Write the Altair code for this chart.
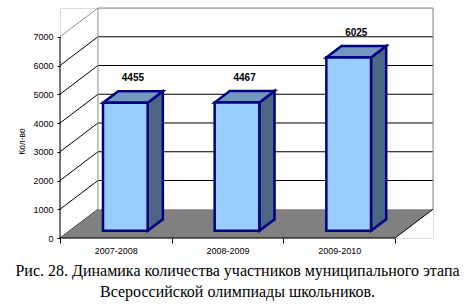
import altair as alt
import pandas as pd

# ---------------- data ----------------
categories = ["2007-2008", "2008-2009", "2009-2010"]
values = [4455, 4467, 6025]
y_ticks = [0, 1000, 2000, 3000, 4000, 5000, 6000, 7000]
y_title = "Кол-во"
caption = [
    "Рис. 28. Динамика количества участников муниципального этапа",
    "Всероссийской олимпиады школьников.",
]

# ---------------- 3D geometry (data units) ----------------
N = len(categories)
YMAX = y_ticks[-1]
DX = 0.34      # depth shift along the category axis
DY = 1000      # depth shift along the value axis
BAR_LO, BAR_HI = 0.30, 0.70   # bar width inside a category band
D0, D1 = 0.25, 0.65           # bar depth (fraction of the full depth)

FRONT = "#99CCFF"
TOP = "#7298BF"
SIDE = "#4C6784"
EDGE = "#000080"
FLOOR = "#808080"
GRAYLINE = "#8C8C8C"
SANS = "Liberation Sans, Arial, sans-serif"
SERIF = "Liberation Serif, Times New Roman, serif"

xs = alt.Scale(domain=[0, N + DX], nice=False, zero=False)
ys = alt.Scale(domain=[0, YMAX + DY], nice=False, zero=False)

label_expr = (
    "datum.value % 1 === 0.5 ? "
    + "[" + ",".join("'" + c + "'" for c in categories) + "][floor(datum.value)] : ''"
)
x_vals = [k / 2 for k in range(2 * N + 1)]

X_AX = alt.Axis(
    values=x_vals, labelExpr=label_expr, domain=False, grid=False,
    tickSize=5, tickColor="#000000",
    tickOpacity={"condition": {"test": "datum.value % 1 === 0", "value": 1}, "value": 0},
    labelPadding=3, labelFont=SANS, labelFontSize=9,
    labelColor="#000000", labelAngle=0, title=None,
)
Y_AX = alt.Axis(
    values=y_ticks, format="d", domain=False, grid=False, tickSize=3, tickColor="#000000",
    labelPadding=4, labelFont=SANS, labelFontSize=9, labelColor="#000000",
    title=y_title, titleFont=SANS, titleFontSize=8.5, titleFontWeight="normal",
    titleColor="#000000", titleX=-34, titleY=133, titleAngle=270,
)


def X(field, **kw):
    return alt.X(field, scale=xs, axis=X_AX, **kw)


def Y(field, **kw):
    return alt.Y(field, scale=ys, axis=Y_AX, **kw)


# ---------- wall / grid segments ----------
segs = []
for v in y_ticks[1:]:
    segs.append(dict(x=DX, y=v + DY, x2=N + DX, y2=v + DY,
                     c="g" if v == YMAX else "k"))
for v in y_ticks:
    segs.append(dict(x=0, y=v, x2=DX, y2=v + DY, c="g" if v == YMAX else "k"))
segs.append(dict(x=DX, y=DY, x2=DX, y2=YMAX + DY, c="g"))
segs.append(dict(x=N + DX, y=DY, x2=N + DX, y2=YMAX + DY, c="g"))
segs_df = pd.DataFrame(segs)

edges_df = pd.DataFrame([
    dict(x=0, y=0, x2=N, y2=0),           # front floor edge
    dict(x=N, y=0, x2=N + DX, y2=DY),      # right floor edge
    dict(x=0, y=0, x2=0, y2=YMAX),         # front value axis line
])

floor_df = pd.DataFrame([
    dict(y=0, x=0, x2=N),
    dict(y=DY, x=DX, x2=N + DX),
])

# ---------- bars ----------
ddx = DX * (D1 - D0)
ddy = DY * (D1 - D0)
front_rows, lab_rows = [], []
top_dfs, side_dfs = [], []
for i, (c, v) in enumerate(zip(categories, values)):
    x0 = i + BAR_LO + DX * D0
    x1 = i + BAR_HI + DX * D0
    yb = DY * D0
    yt = v + DY * D0
    front_rows.append(dict(cat=c, x=x0, x2=x1, y=yb, y2=yt))
    top_dfs.append(pd.DataFrame([
        dict(y=yt, x=x0, x2=x1),
        dict(y=yt + ddy, x=x0 + ddx, x2=x1 + ddx),
    ]))
    side_dfs.append(pd.DataFrame([
        dict(x=x1, y=yb, y2=yt),
        dict(x=x1 + ddx, y=yb + ddy, y2=yt + ddy),
    ]))
    lab_rows.append(dict(cat=c, x=i + 0.5 + DX * (D0 + D1) / 2, y=yt + ddy, v=v))

front_df = pd.DataFrame(front_rows)
lab_df = pd.DataFrame(lab_rows)

# ---------- layers ----------
grid = alt.Chart(segs_df).mark_rule(strokeWidth=1).encode(
    x=X("x:Q"), y=Y("y:Q"), x2="x2:Q", y2="y2:Q",
    color=alt.Color("c:N", scale=alt.Scale(domain=["k", "g"], range=["#000000", GRAYLINE]), legend=None),
)

floor = alt.Chart(floor_df).mark_area(orient="horizontal", fill=FLOOR, opacity=1).encode(
    y=Y("y:Q"), x=X("x:Q", stack=None), x2="x2:Q",
)

edges = alt.Chart(edges_df).mark_rule(color="#000000", strokeWidth=1).encode(
    x=X("x:Q"), y=Y("y:Q"), x2="x2:Q", y2="y2:Q",
)

sides = [
    alt.Chart(d).mark_area(
        orient="vertical", fill=SIDE, opacity=1, stroke=EDGE, strokeWidth=2.5, strokeJoin="miter"
    ).encode(x=X("x:Q"), y=Y("y:Q", stack=None), y2="y2:Q")
    for d in side_dfs
]
tops = [
    alt.Chart(d).mark_area(
        orient="horizontal", fill=TOP, opacity=1, stroke=EDGE, strokeWidth=2.5, strokeJoin="miter"
    ).encode(y=Y("y:Q"), x=X("x:Q", stack=None), x2="x2:Q")
    for d in top_dfs
]

front = alt.Chart(front_df).mark_rect(
    fill=FRONT, stroke=EDGE, strokeWidth=2.5, strokeJoin="miter"
).encode(x=X("x:Q"), x2="x2:Q", y=Y("y:Q"), y2="y2:Q")

labels = alt.Chart(lab_df).mark_text(
    font=SANS, fontSize=10, fontWeight="bold", color="#000000",
    baseline="middle", align="center", dy=-13,
).encode(x=X("x:Q"), y=Y("y:Q"), text="v:Q")

chart = alt.layer(grid, floor, edges, *sides, *tops, front, labels).properties(
    width=373, height=230,
    autosize=alt.AutoSizeParams(type="none"),
    padding={"left": 60, "top": 8, "right": 41, "bottom": 69},
    title=alt.TitleParams(
        caption, orient="bottom", anchor="middle", frame="group",
        font=SERIF, fontSize=16, fontWeight="normal", color="#000000",
        lineHeight=21, offset=8, dx=-9,
    ),
).configure_view(stroke=None).configure(background="#FFFFFF")

chart.save("out.html", embed_options={"renderer": "svg", "actions": False})
